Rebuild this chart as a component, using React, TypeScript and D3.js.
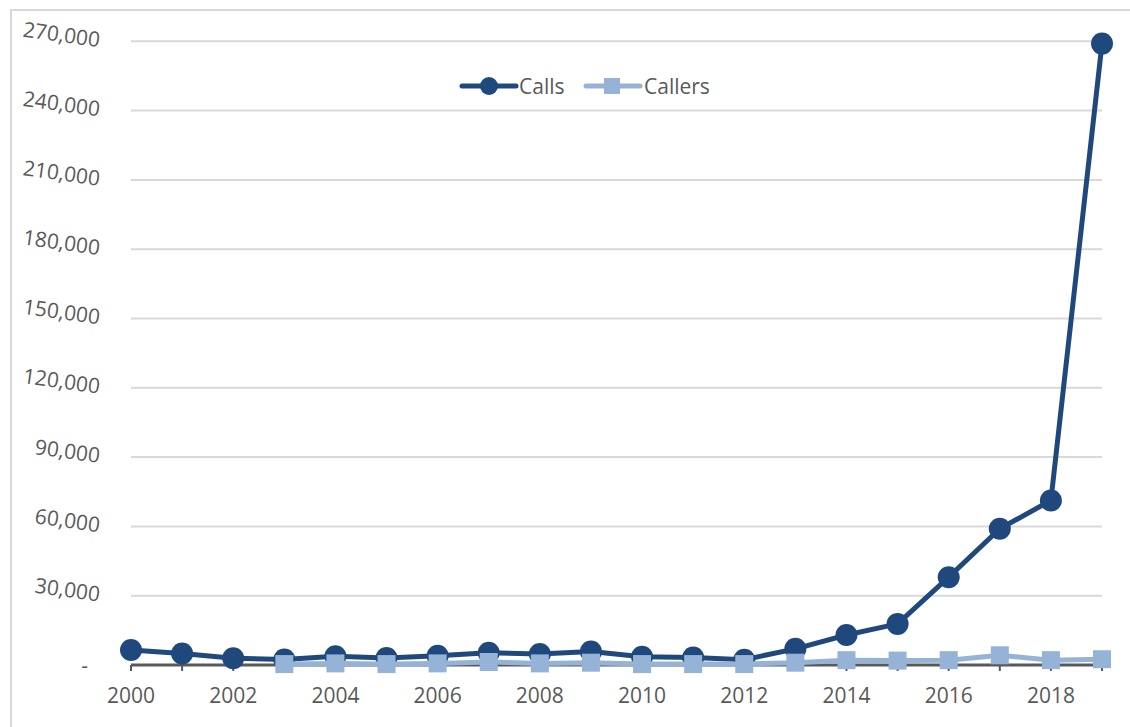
import React from "react";
import * as d3 from "d3";

const years = [2000,2001,2002,2003,2004,2005,2006,2007,2008,2009,2010,2011,2012,2013,2014,2015,2016,2017,2018,2019];
const calls = [6500,5000,2900,2400,3800,3000,4000,5300,4800,5800,3600,3200,2300,7000,13000,17800,38000,59000,71200,269000];
const callersYears = [2003,2004,2005,2006,2007,2008,2009,2010,2011,2012,2013,2014,2015,2016,2017,2018,2019];
const callers = [400,700,400,700,1300,700,1000,400,400,400,1000,2100,1900,2100,4200,2100,2500];
const yTicks = [0,30000,60000,90000,120000,150000,180000,210000,240000,270000];
const xTickLabels = [2000,2002,2004,2006,2008,2010,2012,2014,2016,2018];

const CALLS_COLOR = "#1f497d";
const CALLERS_COLOR = "#95b3d7";
const TEXT = "#595959";
const FONT = "'Open Sans', sans-serif";

export default function App() {
  const x = d3.scalePoint<number>().domain(years).range([131, 1102]);
  const y = d3.scaleLinear().domain([0, 270000]).range([665, 41.3]);
  const line = d3.line<[number, number]>().x(d => x(d[0])!).y(d => y(d[1]));
  const callsPts: [number, number][] = years.map((yr, i) => [yr, calls[i]]);
  const callersPts: [number, number][] = callersYears.map((yr, i) => [yr, callers[i]]);
  const fmt = d3.format(",");
  return (
    <svg width={1130} height={727} style={{ position: "absolute", left: 0, top: 0, background: "#fff" }} fontFamily={FONT}>
      <rect x={11} y={10} width={1140} height={740} fill="#fff" stroke="#d9d9d9" strokeWidth={2} />
      {yTicks.filter(t => t > 0).map(t => (
        <line key={t} x1={131} x2={1102} y1={y(t)} y2={y(t)} stroke="#d9d9d9" strokeWidth={2} />
      ))}
      {yTicks.map(t => (
        t === 0 ? (
          <text key={t} x={88} y={y(t)} textAnchor="end" dominantBaseline="central" fontSize={21} fill={TEXT}>-</text>
        ) : (
          <text key={t} x={100} y={y(t) - 2} textAnchor="end" dominantBaseline="central" fontSize={21} fill={TEXT}
            transform={`rotate(8 100 ${y(t) - 2})`}>{fmt(t)}</text>
        )
      ))}
      <line x1={131} x2={1102} y1={y(0)} y2={y(0)} stroke={TEXT} strokeWidth={3} />
      {years.map(yr => (
        <line key={yr} x1={x(yr)} x2={x(yr)} y1={y(0)} y2={y(0) + 6} stroke={TEXT} strokeWidth={2} />
      ))}
      {xTickLabels.map(yr => (
        <text key={yr} x={x(yr)} y={695} textAnchor="middle" dominantBaseline="central" fontSize={21} fill={TEXT}>{yr}</text>
      ))}
      <path d={line(callsPts)!} fill="none" stroke={CALLS_COLOR} strokeWidth={5} strokeLinejoin="round" />
      {callsPts.map(p => (
        <circle key={p[0]} cx={x(p[0])} cy={y(p[1])} r={11} fill={CALLS_COLOR} />
      ))}
      <path d={line(callersPts)!} fill="none" stroke={CALLERS_COLOR} strokeWidth={5} strokeLinejoin="round" />
      {callersPts.map(p => (
        <rect key={p[0]} x={x(p[0])! - 9} y={y(p[1]) - 9} width={18} height={18} fill={CALLERS_COLOR} />
      ))}
      <g>
        <line x1={462} x2={516} y1={86} y2={86} stroke={CALLS_COLOR} strokeWidth={5} strokeLinecap="round" />
        <circle cx={489} cy={86} r={9} fill={CALLS_COLOR} />
        <text x={519} y={86} dominantBaseline="central" fontSize={21} fill={TEXT}>Calls</text>
        <line x1={586} x2={640} y1={86} y2={86} stroke={CALLERS_COLOR} strokeWidth={5} strokeLinecap="round" />
        <rect x={604} y={78} width={16} height={16} fill={CALLERS_COLOR} />
        <text x={644} y={86} dominantBaseline="central" fontSize={21} fill={TEXT}>Callers</text>
      </g>
    </svg>
  );
}
